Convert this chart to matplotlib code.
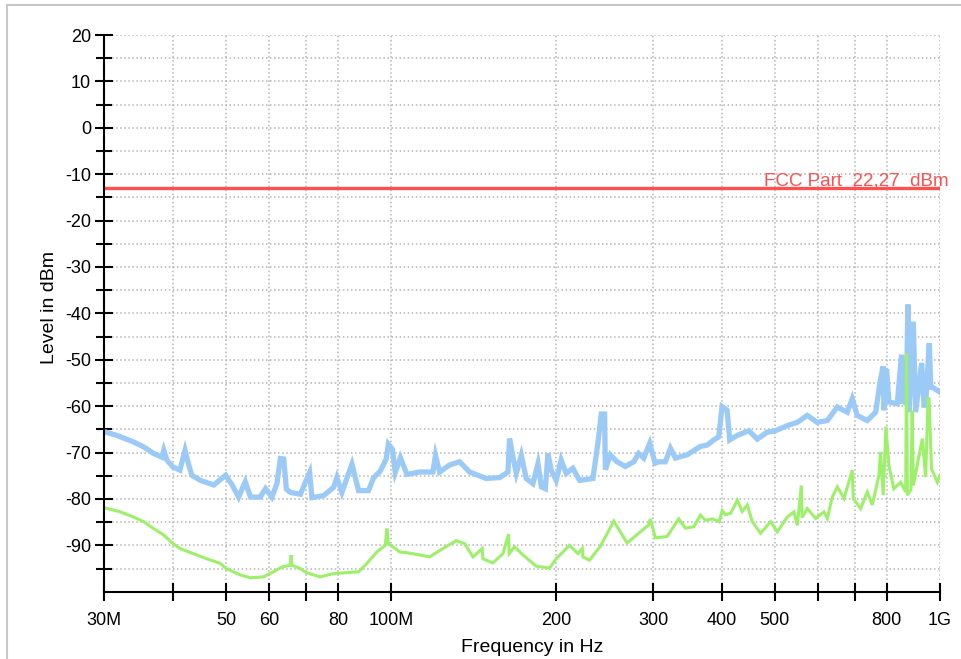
import matplotlib
matplotlib.use("Agg")
import matplotlib.pyplot as plt
from matplotlib.lines import Line2D

plt.rcParams['font.family'] = ['Liberation Sans', 'DejaVu Sans']
plt.rcParams['axes.unicode_minus'] = False

# ---- data (frequency in MHz, level in dBm) ----
peak_freq = [30.0, 31.6, 33.9, 35.4, 36.9, 38.2, 38.5, 39.0, 40.0, 41.2, 42.1, 42.7, 43.3, 44.9,
             47.5, 49.9, 51.3, 52.7, 54.2, 55.4, 57.7, 59.0, 60.6, 61.9, 62.8, 63.7, 64.4, 65.5,
             68.3, 69.7, 71.0, 71.7, 75.3, 78.5, 79.6, 81.3, 84.8, 87.2, 90.9, 92.9, 95.5, 97.9,
             98.8, 100.5, 101.7, 103.9, 106.8, 112.6, 119.1, 120.4, 122.5, 127.7, 133.2, 138.9,
             149.0, 157.6, 163.2, 164.3, 166.6, 169.0, 172.6, 176.2, 181.2, 185.1, 187.7, 190.9,
             193.0, 195.7, 199.8, 204.0, 208.4, 214.3, 220.4, 233.1, 238.0, 241.4, 244.8, 245.6,
             250.8, 257.9, 267.1, 276.6, 282.5, 288.5, 295.8, 302.5, 307.2, 315.9, 322.7, 329.5,
             346.0, 365.9, 376.3, 387.0, 395.2, 400.8, 409.3, 413.8, 427.2, 448.6, 464.6, 484.5,
             501.6, 526.8, 549.5, 572.9, 597.5, 623.2, 650.0, 677.7, 692.0, 706.7, 737.0, 763.5,
             777.5, 788.0, 790.5, 799.2, 807.1, 835.7, 851.0, 855.0, 862.0, 868.0, 874.0, 878.0,
             894.0, 902.7, 926.0, 935.0, 941.5, 956.0, 962.0, 968.3, 1000.0]
peak_level = [-65.5, -66.3, -67.7, -68.8, -70.2, -71.0, -69.5, -71.6, -73.1, -73.8, -69.5, -72.4,
              -74.9, -76.0, -77.0, -74.9, -77.0, -79.6, -76.3, -79.6, -79.6, -77.8, -79.6, -76.7,
              -71.3, -71.4, -77.9, -78.6, -79.0, -76.5, -74.3, -79.7, -79.3, -77.5, -75.4, -78.6,
              -72.5, -78.2, -78.2, -75.4, -74.0, -71.4, -68.2, -69.3, -74.3, -71.1, -74.7, -74.2,
              -74.2, -70.6, -74.2, -72.7, -72.0, -74.2, -75.6, -75.4, -74.2, -67.0, -70.9, -74.5,
              -70.6, -75.6, -76.7, -72.4, -77.4, -77.8, -70.2, -73.8, -76.0, -71.6, -74.5, -73.4,
              -76.0, -75.6, -68.0, -61.7, -61.7, -73.7, -70.5, -72.0, -73.0, -72.0, -70.2, -71.2,
              -68.0, -72.3, -72.0, -72.0, -69.1, -71.2, -70.5, -68.7, -68.4, -67.3, -66.6, -60.1,
              -60.9, -67.3, -66.3, -65.3, -67.1, -65.6, -65.3, -64.2, -63.5, -62.0, -63.5, -63.1,
              -60.2, -61.3, -58.4, -62.0, -63.1, -61.3, -54.8, -51.4, -60.9, -52.0, -59.1, -59.5,
              -48.9, -59.5, -54.1, -59.8, -38.1, -61.3, -41.8, -61.3, -50.7, -59.8, -59.8, -46.4,
              -55.9, -55.9, -57.0]

avg_freq = [30.0, 32.1, 33.9, 35.4, 36.9, 38.5, 40.0, 41.2, 43.6, 46.1, 48.8, 50.0, 53.1, 55.4,
            58.5, 61.0, 63.2, 65.5, 65.7, 65.9, 68.3, 70.0, 74.2, 78.5, 83.0, 87.2, 90.3, 94.2,
            97.5, 98.2, 98.8, 100.7, 103.6, 109.5, 117.5, 124.2, 131.3, 136.0, 140.9, 146.5,
            146.9, 153.2, 159.8, 163.6, 164.0, 167.8, 173.8, 183.8, 194.3, 199.8, 211.3, 218.9,
            222.9, 223.5, 229.8, 240.5, 254.4, 269.0, 280.5, 294.6, 296.7, 302.9, 318.2, 334.1,
            343.6, 355.9, 366.0, 373.7, 385.0, 395.6, 401.1, 406.5, 415.4, 427.2, 436.3, 445.5,
            454.9, 471.1, 491.3, 505.2, 526.8, 541.8, 549.5, 558.8, 560.5, 572.9, 593.4, 614.5,
            623.2, 636.4, 650.0, 668.5, 692.0, 695.0, 701.8, 716.7, 737.0, 752.6, 774.0, 779.0,
            788.0, 797.0, 807.0, 824.0, 848.0, 866.0, 869.0, 872.0, 885.0, 890.0, 894.0, 928.5,
            941.5, 951.0, 955.0, 965.0, 988.7, 1000.0]
avg_level = [-81.9, -82.8, -83.9, -84.9, -86.4, -87.8, -89.6, -90.7, -91.8, -92.9, -93.9, -95.0,
             -96.4, -97.0, -96.8, -95.7, -94.7, -94.3, -92.1, -94.3, -95.0, -95.9, -96.8, -96.1,
             -95.9, -95.7, -93.9, -91.4, -90.0, -86.4, -89.6, -90.3, -91.4, -91.8, -92.5, -90.7,
             -89.0, -89.6, -92.5, -90.7, -92.9, -93.8, -91.8, -87.6, -91.8, -90.3, -92.1, -94.5,
             -94.9, -92.9, -90.0, -91.8, -90.7, -92.5, -93.2, -90.2, -84.8, -89.5, -87.7, -85.6,
             -84.3, -88.4, -88.1, -84.3, -86.3, -86.0, -83.5, -84.6, -84.3, -84.9, -82.5, -83.4,
             -83.1, -80.3, -82.7, -81.3, -84.9, -87.4, -84.9, -87.1, -83.9, -82.8, -85.7, -77.1,
             -84.0, -82.1, -84.2, -82.8, -84.2, -79.6, -77.4, -79.9, -73.8, -80.0, -80.6, -82.1,
             -78.5, -81.3, -74.9, -69.9, -79.2, -64.4, -72.8, -77.8, -76.4, -78.5, -48.6, -79.2,
             -78.0, -61.0, -77.1, -67.0, -75.3, -58.4, -58.4, -73.5, -76.4, -74.9]

limit_level = -13.0
limit_label = "FCC Part  22,27  dBm"

x_ticks = [30, 40, 50, 60, 70, 80, 100, 200, 300, 400, 500, 600, 700, 800, 1000]
x_ticklabels = ["30M", "", "50", "60", "", "80", "100M", "200", "300", "400", "500", "", "", "800", "1G"]
y_major = list(range(-90, 21, 10))
y_minor = list(range(-95, 16, 10))

# ---- figure ----
W, H = 962, 659
fig = plt.figure(figsize=(W / 100, H / 100), dpi=100)
ax = fig.add_axes([104.3 / W, (H - 591.7) / H, (940 - 104.3) / W, (591.7 - 35) / H])

ax.set_xscale('log')
ax.set_xlim(30, 1000)
ax.set_ylim(-100, 20)

ax.plot(peak_freq, peak_level, color='#9ccaf7', lw=3.8, zorder=3, solid_joinstyle='miter')
ax.plot(avg_freq, avg_level, color='#9cf06a', lw=2.2, zorder=4, solid_joinstyle='miter')
ax.hlines(limit_level, 30, 1000, color='#ff5050', lw=2.4, zorder=5)

ax.set_xticks(x_ticks)
ax.set_xticklabels(x_ticklabels)
ax.xaxis.set_minor_locator(matplotlib.ticker.NullLocator())
ax.set_yticks(y_major)
ax.set_yticks(y_minor, minor=True)

ax.tick_params(axis='both', which='major', direction='inout', length=13, width=1.5,
               labelsize=13, color='black')
ax.tick_params(axis='y', which='minor', direction='inout', length=11, width=1.5)
ax.tick_params(axis='y', which='major', pad=3)
ax.tick_params(axis='x', which='major', pad=8)

ax.grid(True, which='major', axis='x', linestyle=':', color='#b4b4b4', lw=1.1)
ax.grid(True, which='both', axis='y', linestyle=':', color='#b4b4b4', lw=1.1)
ax.set_axisbelow(True)

for s in ['top', 'right']:
    ax.spines[s].set_visible(False)
for s in ['left', 'bottom']:
    ax.spines[s].set_linewidth(1.5)
    ax.spines[s].set_zorder(6)

fig.text(949 / W, (H - 185) / H, limit_label, color='#ff5050', fontsize=13.5,
         ha='right', va='baseline')
fig.text(532 / W, (H - 648) / H, "Frequency in Hz", fontsize=14, ha='center', va='center')
fig.text(50 / W, (H - 308) / H, "Level in dBm", fontsize=14, ha='center', va='center',
         rotation=90)

# outer light frame
fig.add_artist(Line2D([7 / W, 1.0], [(H - 5) / H, (H - 5) / H], color='#c8c8c8', lw=1.5))
fig.add_artist(Line2D([7 / W, 7 / W], [0, (H - 5) / H], color='#c8c8c8', lw=1.5))

fig.savefig("out.png", dpi=100)
